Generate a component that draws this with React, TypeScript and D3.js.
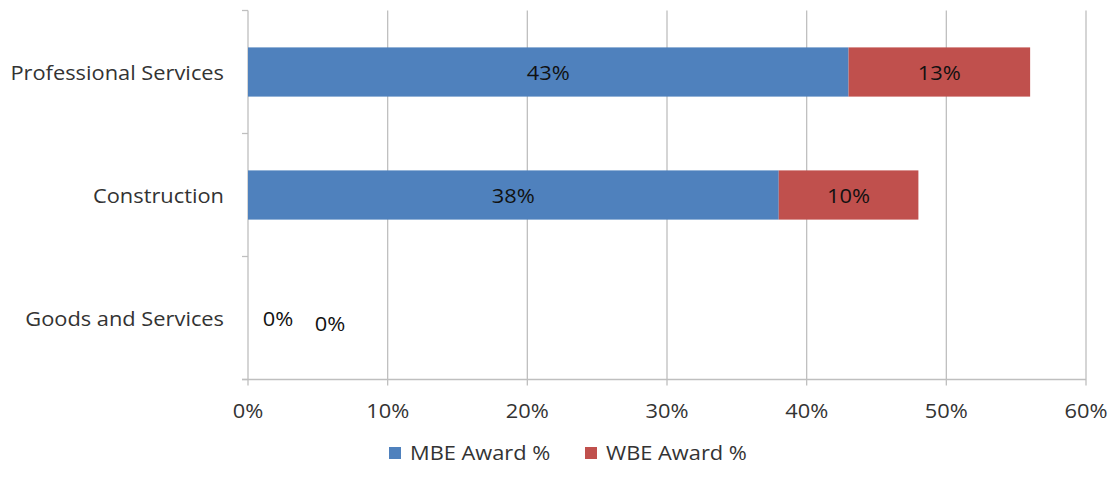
import React, { useEffect, useRef } from 'react';
import * as d3 from 'd3';

const categories = ['Professional Services', 'Construction', 'Goods and Services'];
const mbeValues = [0.43, 0.38, 0];
const wbeValues = [0.13, 0.10, 0];
const seriesNames = ['MBE Award %', 'WBE Award %'];
const xTicks = [0, 0.1, 0.2, 0.3, 0.4, 0.5, 0.6];

const colors = ['#4F81BD', '#C0504D'];
const font = '"Open Sans", "Noto Sans", sans-serif';
const fontSize = 19.5;
const stretch = 1.12; // the reference is a little wider than tall

const App = () => {
    const svgRef = useRef<SVGSVGElement>(null);

    useEffect(() => {
        const root = d3.select(svgRef.current);
        root.selectAll('*').remove();

        const width = 1112;
        const height = 480;
        const left = 248, right = 1086, top = 10.5, bottom = 379.5;

        root.attr('width', width).attr('height', height);

        const x = d3.scaleLinear().domain([0, 0.6]).range([left, right]);
        const y = d3.scaleBand()
            .domain(categories)
            .range([top, bottom])
            .paddingInner(0.6)
            .paddingOuter(0.3);

        const gridColor = '#BFBFBF';

        // helper for stretched text
        const addText = (sel: any, px: (d: any, i: number) => number, py: (d: any, i: number) => number) =>
            sel.append('text')
                .attr('transform', (d: any, i: number) => `translate(${px(d, i)},${py(d, i) + 1.5}) scale(${stretch},1)`)
                .attr('dy', '0.35em')
                .attr('font-family', font)
                .attr('font-size', fontSize);

        // vertical gridlines
        root.append('g')
            .selectAll('line')
            .data(xTicks.slice(1))
            .enter()
            .append('line')
            .attr('x1', d => x(d))
            .attr('x2', d => x(d))
            .attr('y1', top)
            .attr('y2', bottom + 6)
            .attr('stroke', gridColor)
            .attr('stroke-width', 1.3);

        // category axis
        root.append('line')
            .attr('x1', left).attr('x2', left)
            .attr('y1', top).attr('y2', bottom)
            .attr('stroke', gridColor).attr('stroke-width', 1.3);

        const step = y.step();
        const bounds = d3.range(categories.length + 1).map(i => top + i * step);
        root.append('g')
            .selectAll('line')
            .data(bounds)
            .enter()
            .append('line')
            .attr('x1', left - 6).attr('x2', left)
            .attr('y1', d => d).attr('y2', d => d)
            .attr('stroke', gridColor).attr('stroke-width', 1.3);

        // value axis
        root.append('line')
            .attr('x1', left - 6).attr('x2', right)
            .attr('y1', bottom).attr('y2', bottom)
            .attr('stroke', gridColor).attr('stroke-width', 1.3);
        root.append('line')
            .attr('x1', left).attr('x2', left)
            .attr('y1', bottom).attr('y2', bottom + 6)
            .attr('stroke', gridColor).attr('stroke-width', 1.3);

        addText(root.append('g').selectAll('text').data(xTicks).enter(),
            d => x(d), () => bottom + 30)
            .attr('text-anchor', 'middle')
            .attr('fill', '#333')
            .text((d: number) => d3.format('.0%')(d));

        addText(root.append('g').selectAll('text').data(categories).enter(),
            () => left - 24, d => (y(d) as number) + y.bandwidth() / 2)
            .attr('text-anchor', 'end')
            .attr('fill', '#333')
            .text((d: string) => d);

        // stacked bars
        const rows = categories.map((c, i) => ({ c, m: mbeValues[i], w: wbeValues[i] }));
        const segs = rows.flatMap(r => [
            { c: r.c, s: 0, x0: 0, x1: r.m, v: r.m },
            { c: r.c, s: 1, x0: r.m, x1: r.m + r.w, v: r.w },
        ]);

        root.append('g')
            .selectAll('rect')
            .data(segs.filter(d => d.v > 0))
            .enter()
            .append('rect')
            .attr('x', d => x(d.x0))
            .attr('y', d => y(d.c) as number)
            .attr('width', d => x(d.x1) - x(d.x0))
            .attr('height', y.bandwidth())
            .attr('fill', d => colors[d.s]);

        // data labels (zero labels are pushed aside like Excel does)
        addText(root.append('g').selectAll('text').data(segs).enter(),
            d => d.v > 0 ? (x(d.x0) + x(d.x1)) / 2 : x(d.x0) + 30 + d.s * 52,
            d => (y(d.c) as number) + y.bandwidth() / 2 + (d.v > 0 ? 0 : d.s * 5))
            .attr('text-anchor', 'middle')
            .attr('fill', '#111')
            .text((d: any) => d3.format('.0%')(d.v));

        // legend
        const legendX = [389, 585];
        const legend = root.append('g')
            .selectAll('g')
            .data(seriesNames)
            .enter()
            .append('g')
            .attr('transform', (d, i) => `translate(${legendX[i]},453)`);
        legend.append('rect')
            .attr('x', 0).attr('y', -6)
            .attr('width', 12).attr('height', 12)
            .attr('fill', (d, i) => colors[i]);
        addText(legend, () => 21, () => -1)
            .attr('fill', '#333')
            .text((d: string) => d);
    }, []);

    return (
        <svg ref={svgRef} style={{ display: 'block', position: 'absolute', left: 0, top: 0 }}></svg>
    );
};

export default App;
